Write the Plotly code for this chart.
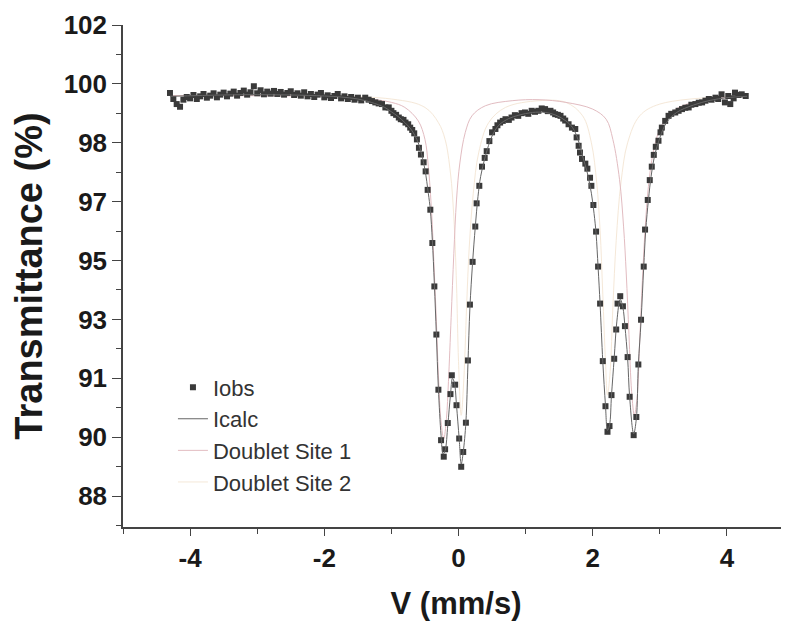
import plotly.graph_objects as go

# observed spectrum (velocity mm/s, transmittance %)
v_obs = [-4.30, -4.25, -4.20, -4.15, -4.10, -4.05, -4.00, -3.95, -3.90, -3.85,
         -3.80, -3.75, -3.70, -3.65, -3.60, -3.55, -3.50, -3.45, -3.40, -3.35,
         -3.30, -3.25, -3.20, -3.15, -3.10, -3.05, -3.00, -2.95, -2.90, -2.85,
         -2.80, -2.75, -2.70, -2.65, -2.60, -2.55, -2.50, -2.45, -2.40, -2.35,
         -2.30, -2.25, -2.20, -2.15, -2.10, -2.05, -2.00, -1.95, -1.90, -1.85,
         -1.80, -1.75, -1.70, -1.65, -1.60, -1.55, -1.50, -1.45, -1.39, -1.34,
         -1.29, -1.24, -1.19, -1.14, -1.09, -1.04, -1.00, -0.97, -0.93, -0.89,
         -0.86, -0.82, -0.79, -0.75, -0.72, -0.69, -0.66, -0.62, -0.59, -0.56,
         -0.52, -0.49, -0.46, -0.42, -0.39, -0.36, -0.33, -0.30, -0.26, -0.22,
         -0.20, -0.16, -0.12, -0.10, -0.05, -0.03, 0.01, 0.04, 0.07, 0.11,
         0.14, 0.17, 0.21, 0.25, 0.27, 0.31, 0.35, 0.39, 0.42, 0.46,
         0.50, 0.55, 0.58, 0.62, 0.66, 0.70, 0.75, 0.79, 0.84, 0.89,
         0.94, 0.99, 1.04, 1.09, 1.14, 1.19, 1.24, 1.29, 1.33, 1.37,
         1.41, 1.44, 1.48, 1.52, 1.56, 1.59, 1.64, 1.69, 1.74, 1.76,
         1.79, 1.81, 1.84, 1.89, 1.92, 1.96, 1.98, 2.01, 2.05, 2.08,
         2.11, 2.15, 2.19, 2.22, 2.25, 2.28, 2.32, 2.35, 2.37, 2.41,
         2.45, 2.48, 2.52, 2.55, 2.61, 2.65, 2.68, 2.72, 2.76, 2.78,
         2.82, 2.85, 2.88, 2.91, 2.94, 2.98, 3.01, 3.03, 3.08, 3.13,
         3.17, 3.23, 3.28, 3.33, 3.38, 3.43, 3.47, 3.53, 3.58, 3.63,
         3.68, 3.73, 3.77, 3.83, 3.87, 3.92, 3.97, 4.02, 4.05, 4.10,
         4.12, 4.17, 4.22, 4.28]
t_obs = [99.98, 99.80, 99.65, 99.57, 99.78, 99.86, 99.82, 99.92, 99.80, 99.88,
         99.95, 99.84, 99.90, 99.97, 99.85, 99.93, 99.99, 99.88, 99.96, 100.02,
         99.90, 99.98, 100.05, 99.93, 100.00, 100.18, 99.97, 100.06, 99.94, 100.02,
         99.96, 100.04, 99.95, 100.01, 99.93, 99.98, 100.03, 99.92, 99.97, 99.90,
         100.00, 99.88, 99.95, 99.86, 99.93, 99.98, 99.85, 99.91, 99.83, 99.89,
         99.95, 99.82, 99.88, 99.80, 99.86, 99.78, 99.84, 99.76, 99.84, 99.78,
         99.74, 99.70, 99.67, 99.65, 99.55, 99.55, 99.45, 99.38, 99.33, 99.25,
         99.20, 99.18, 99.10, 99.05, 98.95, 98.88, 98.78, 98.60, 98.35, 98.15,
         97.92, 97.65, 97.10, 96.51, 95.52, 94.23, 92.80, 91.16, 89.66, 89.17,
         89.39, 90.17, 91.03, 91.59, 91.31, 90.70, 89.71, 88.87, 89.31, 90.18,
         92.03, 93.69, 94.96, 96.01, 96.70, 97.22, 97.79, 98.05, 98.25, 98.55,
         98.81, 98.91, 99.02, 99.10, 99.15, 99.20, 99.18, 99.25, 99.32, 99.30,
         99.38, 99.40, 99.36, 99.45, 99.42, 99.45, 99.52, 99.50, 99.44, 99.45,
         99.40, 99.35, 99.33, 99.30, 99.22, 99.16, 99.05, 98.95, 98.91, 98.66,
         98.41, 98.21, 98.02, 97.88, 97.73, 97.46, 97.22, 96.65, 95.86, 94.82,
         93.72, 92.01, 90.67, 89.91, 90.08, 91.00, 92.08, 92.95, 93.72, 93.94,
         93.64, 93.05, 92.13, 90.95, 89.81, 90.35, 91.91, 93.24, 94.82, 95.92,
         96.80, 97.39, 97.79, 98.14, 98.38, 98.56, 98.81, 98.95, 99.15, 99.30,
         99.36, 99.40, 99.45, 99.50, 99.54, 99.55, 99.63, 99.65, 99.69, 99.70,
         99.75, 99.80, 99.78, 99.84, 99.80, 99.94, 99.70, 99.89, 99.65, 99.82,
         99.99, 99.92, 99.94, 99.89]

# fitted total curve
v_calc = [-4.30, -3.50, -3.00, -2.50, -2.00, -1.75, -1.50, -1.30, -1.10, -1.00,
          -0.90, -0.80, -0.70, -0.60, -0.55, -0.50, -0.45, -0.42, -0.39, -0.36,
          -0.33, -0.30, -0.26, -0.23, -0.20, -0.16, -0.12, -0.09, -0.06, -0.03,
          0.01, 0.04, 0.07, 0.11, 0.14, 0.17, 0.21, 0.25, 0.29, 0.33,
          0.40, 0.50, 0.60, 0.75, 0.90, 1.10, 1.30, 1.45, 1.60, 1.70,
          1.78, 1.85, 1.92, 1.98, 2.02, 2.05, 2.08, 2.11, 2.15, 2.19,
          2.22, 2.25, 2.28, 2.32, 2.36, 2.41, 2.45, 2.48, 2.52, 2.55,
          2.61, 2.65, 2.68, 2.72, 2.76, 2.79, 2.83, 2.87, 2.92, 3.00,
          3.10, 3.25, 3.50, 3.75, 4.00, 4.30]
t_calc = [99.88, 99.92, 99.93, 99.92, 99.89, 99.86, 99.80, 99.70, 99.55, 99.42,
          99.28, 99.10, 98.88, 98.50, 98.15, 97.70, 97.00, 96.50, 95.60, 94.30,
          92.80, 91.20, 89.80, 89.25, 89.35, 90.10, 91.00, 91.50, 91.35, 90.70,
          89.70, 88.95, 89.30, 90.20, 91.90, 93.60, 94.95, 96.00, 96.90, 97.50,
          98.10, 98.70, 99.02, 99.22, 99.32, 99.40, 99.40, 99.32, 99.15, 98.95,
          98.60, 98.10, 97.60, 97.00, 96.40, 95.80, 94.80, 93.70, 92.00, 90.70,
          89.95, 90.10, 91.00, 92.10, 93.20, 93.85, 93.60, 93.05, 92.10, 90.95,
          89.85, 90.30, 91.90, 93.20, 94.80, 95.90, 96.80, 97.50, 98.10, 98.65,
          99.10, 99.40, 99.62, 99.76, 99.84, 99.88]

# doublet site 1
v_site1 = [-4.30, -2.00, -1.50, -1.00, -0.80, -0.60, -0.50, -0.45, -0.40, -0.36,
           -0.33, -0.30, -0.26, -0.22, -0.18, -0.15, -0.11, -0.07, -0.03, 0.02,
           0.10, 0.20, 0.40, 0.80, 1.20, 1.60, 2.00, 2.20, 2.30, 2.40,
           2.46, 2.50, 2.54, 2.58, 2.62, 2.66, 2.70, 2.74, 2.78, 2.83,
           2.90, 3.00, 3.20, 3.60, 4.30]
t_site1 = [99.90, 99.88, 99.84, 99.70, 99.55, 99.15, 98.60, 97.80, 96.40, 94.60,
           93.20, 91.60, 90.20, 89.70, 90.30, 91.40, 93.30, 95.20, 96.80, 97.90,
           98.80, 99.30, 99.60, 99.75, 99.78, 99.70, 99.50, 99.20, 98.60, 97.40,
           96.00, 94.60, 92.80, 91.10, 90.40, 90.90, 92.60, 94.40, 95.90, 97.20,
           98.20, 98.90, 99.45, 99.75, 99.87]

# doublet site 2
v_site2 = [-4.30, -1.00, -0.50, -0.30, -0.20, -0.12, -0.07, -0.03, 0.00, 0.04,
           0.08, 0.12, 0.16, 0.22, 0.30, 0.45, 0.70, 1.20, 1.60, 1.85,
           1.98, 2.06, 2.11, 2.15, 2.19, 2.22, 2.26, 2.30, 2.35, 2.42,
           2.52, 2.70, 3.00, 4.30]
t_site2 = [99.90, 99.80, 99.55, 99.10, 98.60, 97.60, 96.30, 94.30, 92.00, 90.40,
           91.50, 93.60, 95.40, 97.00, 98.20, 99.10, 99.55, 99.75, 99.70, 99.30,
           98.50, 97.30, 95.90, 94.00, 92.00, 91.00, 91.70, 93.60, 95.60, 97.30,
           98.50, 99.30, 99.65, 99.90]

x_tick_vals = [-4, -2, 0, 2, 4]
x_tick_text = ['-4', '-2', '0', '2', '4']
y_tick_vals = [88, 89.75, 91.5, 93.25, 95, 96.75, 98.5, 100.25, 102]
y_tick_text = ['88', '90', '91', '93', '95', '97', '98', '100', '102']

FONT = 'Liberation Sans, Arial, sans-serif'

fig = go.Figure()

fig.add_trace(go.Scatter(x=v_site2, y=t_site2, mode='lines', name='Doublet Site 2',
                         line=dict(color='#f5e8d8', width=1, shape='spline'),
                         legendgroup='d', legendrank=4))
fig.add_trace(go.Scatter(x=v_site1, y=t_site1, mode='lines', name='Doublet Site 1',
                         line=dict(color='#e2bcc1', width=1, shape='spline'),
                         legendgroup='c', legendrank=3))
fig.add_trace(go.Scatter(x=v_obs, y=t_obs, mode='markers', name='Iobs',
                         marker=dict(symbol='square', size=6, color='#3a3a3a'),
                         legendgroup='a', legendrank=1))
fig.add_trace(go.Scatter(x=v_calc, y=t_calc, mode='lines', name='Icalc',
                         line=dict(color='#666666', width=1, shape='spline'),
                         legendgroup='b', legendrank=2))

# page body adds an 8 px offset, so the figure is sized and placed to compensate
fig.update_layout(
    width=781, height=616,
    margin=dict(l=115, r=0, t=17, b=97),
    paper_bgcolor='white', plot_bgcolor='white',
    font=dict(family=FONT, color='#1a1a1a'),
    legend=dict(x=0.075, y=0.32, xanchor='left', yanchor='top',
                bgcolor='rgba(0,0,0,0)', font=dict(size=22, color='#333333'),
                tracegroupgap=0),
    showlegend=True,
)

fig.update_xaxes(
    range=[-5, 4.925], showgrid=False, zeroline=False, automargin=False,
    showline=True, linecolor='#444444', linewidth=1.5,
    ticks='outside', ticklen=7, tickwidth=1.2, tickcolor='#444444',
    tickmode='array', tickvals=x_tick_vals, ticktext=x_tick_text,
    tickfont=dict(size=26, family=FONT, weight='bold', color='#1a1a1a'),
    minor=dict(ticks='outside', ticklen=5, dtick=1, tick0=-5, tickcolor='#444444'),
    title=dict(text='V (mm/s)', font=dict(size=31, family=FONT, weight='bold'), standoff=20),
)

fig.update_yaxes(
    range=[87.08, 102.0], showgrid=False, zeroline=False, automargin=False,
    showline=True, linecolor='#444444', linewidth=1.5,
    ticks='outside', ticklen=9, tickwidth=1.2, tickcolor='#444444',
    tickmode='array', tickvals=y_tick_vals, ticktext=y_tick_text,
    ticklabelstandoff=0,
    tickfont=dict(size=26, family=FONT, weight='bold', color='#1a1a1a'),
    minor=dict(ticks='outside', ticklen=5, dtick=0.875, tick0=88, tickcolor='#444444'),
    title=dict(text='Transmittance (%)', font=dict(size=38, family=FONT, weight='bold'), standoff=10),
)

fig.write_html("out.html")
